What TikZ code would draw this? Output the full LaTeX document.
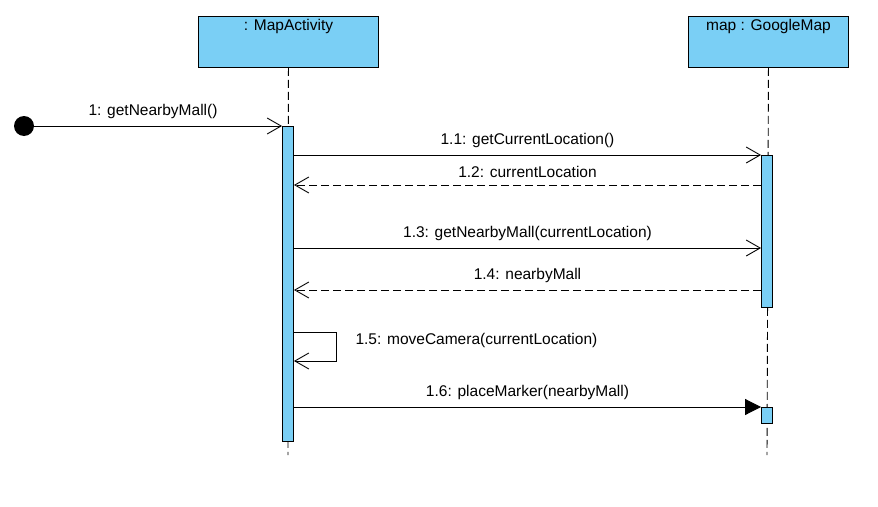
\documentclass[tikz,border=0pt]{standalone}
\usepackage{fontspec}
\setmainfont{Liberation Sans}
\usetikzlibrary{arrows.meta}
\definecolor{lifeblue}{RGB}{122,207,245}
\begin{document}
\begin{tikzpicture}[x=1pt,y=-1pt,font=\fontsize{15.5}{17}\selectfont,
  objbox/.style={draw,fill=lifeblue,anchor=north west,minimum height=51pt,inner sep=0pt,line width=0.9pt},
  actbar/.style={draw,fill=lifeblue,anchor=north,minimum width=11pt,inner sep=0pt,line width=0.9pt},
  lifeline/.style={dash pattern=on 8pt off 4pt,line width=0.9pt},
  call/.style={-{Straight Barb[length=14pt,width=16pt,line width=0.9pt]},line width=0.9pt},
  reply/.style={call,dash pattern=on 8pt off 4pt},
  signal/.style={-{Triangle[length=16pt,width=16pt]},line width=0.9pt}]
\useasboundingbox (0,0) rectangle (878,506);
% objects
\node[objbox,minimum width=180pt] (mapact) at (198,16) {};
\node[anchor=north,inner sep=3pt] at (mapact.north) {: MapActivity};
\node[objbox,minimum width=160pt] (gmap) at (688,16) {};
\node[anchor=north,inner sep=3pt] at (gmap.north) {map : GoogleMap};
\coordinate (end1) at (288,455);
\coordinate (end2) at (767,455);
\draw[lifeline] (mapact.south) -- (end1);
\draw[lifeline] (gmap.south) -- (end2);
% activations
\node[actbar,minimum height=315pt] (act1) at (288,126) {};
\node[actbar,minimum height=152pt] (act2) at (767,155) {};
\node[actbar,minimum height=16pt] (act3) at (767,407) {};
\fill (24,126) circle (10pt) coordinate (start);
% message levels
\coordinate (y12) at (0,185);
\coordinate (y13) at (0,248);
\coordinate (y14) at (0,290);
\coordinate (y15a) at (0,332);
\coordinate (y15b) at (0,361);
\coordinate (loop) at (336,0);
% messages
\draw[call] (start) -- (act1.north west) node[midway,above=3.5pt] {1: getNearbyMall()};
\draw[call] (act1.east |- act2.north) -- (act2.north west) node[midway,above=3.5pt] {1.1: getCurrentLocation()};
\draw[reply] (act2.west |- y12) -- (act1.east |- y12) node[midway,above=3.5pt] {1.2: currentLocation};
\draw[call] (act1.east |- y13) -- (act2.west |- y13) node[midway,above=3.5pt] {1.3: getNearbyMall(currentLocation)};
\draw[reply] (act2.west |- y14) -- (act1.east |- y14) node[midway,above=3.5pt] {1.4: nearbyMall};
\draw[call] (act1.east |- y15a) -- (loop |- y15a) -- (loop |- y15b) -- (act1.east |- y15b);
\node[anchor=west] at (352,340) {1.5: moveCamera(currentLocation)};
\draw[signal] (act1.east |- act3.north) -- (act3.north west) node[midway,above=3.5pt] {1.6: placeMarker(nearbyMall)};
\end{tikzpicture}
\end{document}
